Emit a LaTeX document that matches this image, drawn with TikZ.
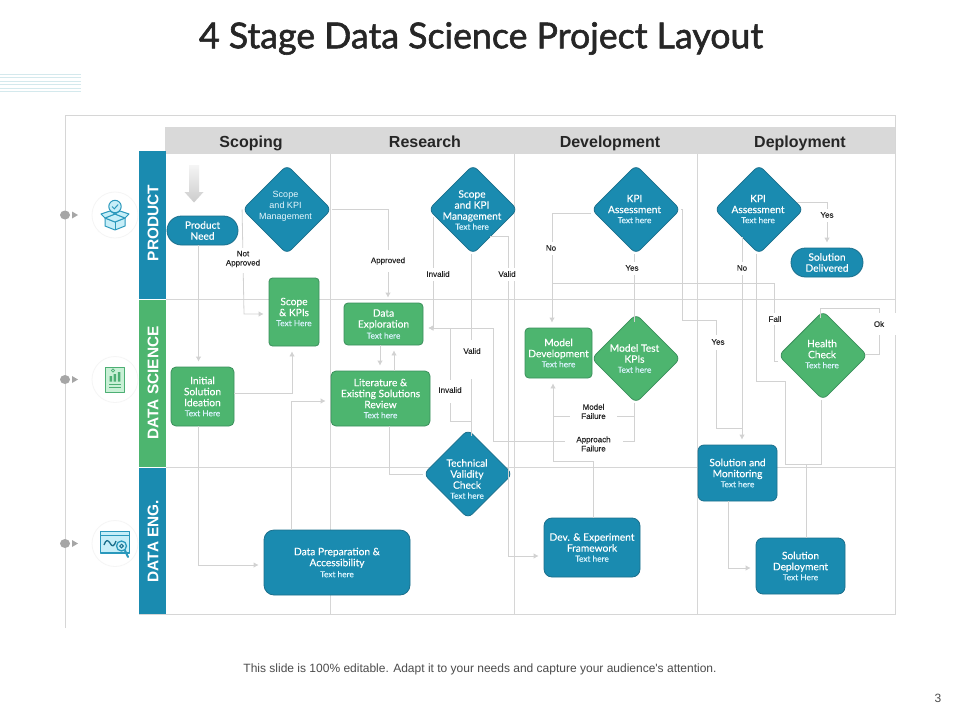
\documentclass[tikz,border=0pt]{standalone}
\usepackage{fontspec}
\setmainfont{Lato}
\newfontfamily\arialf{Liberation Sans}
\newfontfamily\arialb[FakeBold=0.2]{Liberation Sans}
\newfontfamily\flowf[FakeBold=0.2]{Lato}
\newfontfamily\titlef[FakeBold=1.6]{Lato}
\usetikzlibrary{shapes.geometric,arrows.meta}
\definecolor{tealc}{HTML}{1A8BB0}
\definecolor{tealb}{HTML}{1B6F8C}
\definecolor{greenc}{HTML}{4DB56F}
\definecolor{greenb}{HTML}{3B8F5C}
\definecolor{gridc}{HTML}{D6D6D6}
\definecolor{connc}{HTML}{D2D2D2}
\definecolor{headc}{HTML}{D9D9D9}
\definecolor{iconb}{HTML}{2A98BC}
\definecolor{iconf}{HTML}{C6EEF8}
\definecolor{icong}{HTML}{4DAF74}
\definecolor{icongf}{HTML}{C9F0D6}
\definecolor{stripec}{HTML}{D4E9ED}
\newcommand\subt{\fontsize{8.3}{11}\selectfont\color{white!85!cyan}}
\tikzset{
  x=1pt,y=-1pt,
  gridl/.style={draw=gridc,line width=0.8pt},
  conn/.style={draw=connc,line width=0.8pt},
  arr/.style={conn,-{Latex[length=5pt,width=5.5pt,color=connc]},shorten >=5pt},
  flow/.style={align=center,text=white,inner sep=0pt,font=\flowf\fontsize{10.2}{11}\selectfont},
  tealrect/.style={flow,fill=tealc,draw=tealb,line width=0.8pt},
  greenrect/.style={flow,fill=greenc,draw=greenb,line width=0.8pt},
  dia/.style={diamond,aspect=1,minimum width=89pt,minimum height=89pt,inner sep=0pt,rounded corners=6pt,line width=0.8pt},
  teald/.style={dia,fill=tealc,draw=tealb},
  greend/.style={dia,fill=greenc,draw=greenb},
  dtext/.style={align=center,text=white,inner sep=0pt,font=\flowf\fontsize{10.2}{11}\selectfont},
  lab/.style={inner sep=0pt,align=center,text=black!85,font=\arialb\fontsize{8}{9.2}\selectfont},
  labb/.style={fill=white,inner sep=0pt},
  lane/.style={rotate=90,text=white,font=\arialf\bfseries\fontsize{15.4}{16}\selectfont,inner sep=0pt},
  headt/.style={anchor=base,text=black!85,font=\arialf\bfseries\fontsize{16}{18}\selectfont,inner sep=0pt},
  band/.style={inner sep=0pt,minimum width=27pt},
  iconc/.style={circle,draw=black!4,line width=0.8pt,fill=white,minimum size=46pt,inner sep=0pt},
  dot/.style={ellipse,fill=black!35,minimum width=10pt,minimum height=9pt,inner sep=0pt},
  tri/.style={fill=black!35,draw=none},
  icl/.style={draw=iconb,line width=1pt,line join=round,fill=iconf},
  icg/.style={draw=icong,line width=1pt,line join=round,fill=icongf},
}
\begin{document}
\begin{tikzpicture}
\useasboundingbox (0,0) rectangle (960,720);
\fill[white] (0,0) rectangle (960,720);
% decorative stripes
\foreach \yy in {74,77.5,81,84.5,88,91.5}{\draw[draw=stripec,line width=1pt] (0,\yy) -- (81,\yy);}
\node[inner sep=0pt,font=\titlef\fontsize{35.7}{40}\selectfont,text=black!85] (title) at (481,38.5) {4 Stage Data Science Project Layout};
% frame
\draw[gridl] (65,628) -- (65,115) -- (895,115) -- (895,614) -- (139,614);
\node[fill=headc,minimum width=730pt,minimum height=27pt,inner sep=0pt] (hdr) at (530,140.5) {};
\draw[gridl] (166,299) -- (895,299);
\draw[gridl] (166,467) -- (895,467);
\foreach \xx in {330,514,697}{\draw[gridl] (\xx,154) -- (\xx,614);}
\node[headt] (h1) at (251,147.5) {Scoping};
\node[headt] (h2) at (425,147.5) {Research};
\node[headt] (h3) at (610,147.5) {Development};
\node[headt] (h4) at (800,147.5) {Deployment};
% lanes
\node[band,fill=tealc,minimum height=148pt] (l1) at (152.5,225) {};
\node[band,fill=greenc,minimum height=168pt] (l2) at (152.5,383) {};
\node[band,fill=tealc,minimum height=147pt] (l3) at (152.5,540.5) {};
\draw[white,line width=0.6pt] (139,299) -- (166,299) (139,467) -- (166,467);
\node[lane] (lt1) at (153,223) {PRODUCT};
\node[lane] (lt2) at (153,383) {DATA SCIENCE};
\node[lane] (lt3) at (153,541) {DATA ENG.};
% left markers
\foreach \n/\yy in {a/215,b/379.5,c/543.5}{
  \node[dot] (dot\n) at (65,\yy) {};
  \fill[tri] (72,\yy-3.5) -- (78,\yy) -- (72,\yy+3.5) -- cycle;
  \node[iconc] (ic\n) at (115,\yy) {};
}
% box icon
\draw[icl] (105,218) -- (115,222) -- (125,218) -- (125,226) -- (115,230) -- (105,226) -- cycle;
\draw[icl] (115,222) -- (115,230);
\draw[icl] (105,218) -- (115,214) -- (125,218) -- (115,222) -- cycle;
\draw[icl] (105,218) -- (101,214) -- (110,211) -- (115,214) -- cycle;
\draw[icl] (125,218) -- (129,214) -- (120,211) -- (115,214) -- cycle;
\draw[icl] (115,206.5) circle (6.2);
\draw[draw=iconb,line width=1pt] (112,206.5) -- (114.3,208.8) -- (118.2,204.5);
% doc icon
\draw[icg] (105.5,367) rectangle (124.5,392);
\draw[draw=icong,line width=1pt] (109,384) -- (121,384) (109,387.5) -- (121,387.5);
\fill[icong] (109.5,376) rectangle (112,381.5) (113.6,374) rectangle (116.1,381.5) (117.8,372) rectangle (120.3,381.5);
\draw[draw=icong,line width=0.8pt] (113,370.5) circle (1.6);
% chart icon
\draw[icl,line width=1.1pt] (100.5,531.5) rectangle (129.5,553);
\draw[draw=iconb,line width=1.1pt] (100.5,535.5) -- (129.5,535.5);
\draw[draw=tealb,line width=1.3pt] (104,545) .. controls (106,539) and (108,540) .. (110,543) .. controls (112,547) and (114,547) .. (116,541);
\draw[draw=iconb,line width=1.3pt,fill=iconf] (121.5,546) circle (5);
\draw[draw=tealb,line width=1pt] (121.5,546) circle (1.8);
\draw[draw=iconb,line width=2pt,line cap=round] (125,550.5) -- (128,557);
% big arrow
\shade[top color=black!4,bottom color=black!20] (189,165) -- (199,165) -- (199,192) -- (203.5,192) -- (194,202.5) -- (184.5,192) -- (189,192) -- cycle;

% shapes
\node[tealrect,minimum width=71pt,minimum height=29pt,rounded corners=14.5pt] (pn) at (202.5,230.5) {Product\\Need};
\node[teald] (d1) at (287,209.5) {};
\node[teald] (d2) at (473,209.5) {};
\node[teald] (d3) at (636,209.5) {};
\node[teald] (d4) at (759,209.5) {};
\node[tealrect,minimum width=72pt,minimum height=29pt,rounded corners=14.5pt] (sd) at (827,262.5) {Solution\\Delivered};
\node[greenrect,minimum width=50pt,minimum height=68pt,rounded corners=3.5pt] (sk) at (294,312) {Scope\\\& KPIs\\[-1pt]{\subt Text Here}};
\node[greenrect,minimum width=63pt,minimum height=59pt,rounded corners=5pt] (ini) at (202.5,396.5) {Initial\\Solution\\Ideation\\[-1pt]{\subt Text Here}};
\node[greenrect,minimum width=79pt,minimum height=42pt,rounded corners=4pt] (de) at (383.5,324) {Data\\Exploration\\{\subt Text here}};
\node[greenrect,minimum width=99pt,minimum height=55pt,rounded corners=5pt] (lit) at (380.5,398.5) {Literature \&\\Existing Solutions\\Review\\[-1pt]{\subt Text here}};
\node[teald] (tv) at (468,474) {};
\node[tealrect,minimum width=146pt,minimum height=65pt,rounded corners=10pt] (dp) at (337,562.5) {Data Preparation \&\\Accessibility\\{\subt Text here}};
\node[tealrect,minimum width=96pt,minimum height=59pt,rounded corners=8pt] (dx) at (592,547.5) {Dev. \& Experiment\\Framework\\[-1pt]{\subt Text here}};
\node[greenrect,minimum width=67pt,minimum height=50pt,rounded corners=4pt] (md) at (558.5,353) {Model\\Development\\[-1pt]{\subt Text here}};
\node[greend] (mt) at (636,358.5) {};
\node[greend] (hc) at (823,355.5) {};
\node[tealrect,minimum width=79pt,minimum height=56pt,rounded corners=6pt] (sm) at (737.5,473) {Solution and\\Monitoring\\[-1pt]{\subt Text here}};
\node[tealrect,minimum width=89pt,minimum height=56pt,rounded corners=7pt] (sp) at (800.5,566) {Solution\\Deployment\\[-1pt]{\subt Text Here}};
\node[dtext,font=\arialf\fontsize{9}{11}\selectfont,text=white!90!cyan] (d1t) at (285.5,206) {Scope\\and KPI\\Management};
\node[dtext] (d2t) at (472,210) {Scope\\and KPI\\Management\\[-1pt]{\subt Text here}};
\node[dtext] (d3t) at (634.5,209) {KPI\\Assessment\\[-1pt]{\subt Text here}};
\node[dtext] (d4t) at (758,209) {KPI\\Assessment\\[-1pt]{\subt Text here}};
\node[dtext] (tvt) at (467,479) {Technical\\Validity\\Check\\[-1pt]{\subt Text here}};
\node[dtext] (mtt) at (634.5,358.5) {Model Test\\KPIs\\[-1pt]{\subt Text here}};
\node[dtext] (hct) at (822,354) {Health\\Check\\[-1pt]{\subt Text here}};

% connectors
\draw[arr] (198.5,0 |- pn.south) -- (198.5,0 |- ini.north);
\draw[arr] (d1.west) -- (244,314) -- (sk.west |- 0,314);
\draw[arr] (d1.east) -- (388,209.5) -- (388,0 |- de.north);
\draw[arr] (ini.east |- 0,393) -- (292,393) -- (292,0 |- sk.south);
\draw[arr] (198.5,0 |- ini.south) -- (198.5,565) -- (dp.west |- 0,565);
\draw[arr] (291.5,0 |- dp.north) -- (291.5,401) -- (lit.west |- 0,401);
\draw[arr] (380,0 |- de.south) -- (380,0 |- lit.north);
\draw[arr] (394,0 |- lit.north) -- (394,0 |- de.south);
\draw[conn] (389,0 |- lit.south) -- (389,474) -- (tv.west);
\draw[conn] (471,0 |- d2.south) -- (471,436);
\draw[arr] (471,421) -- (450,421) -- (450,328) -- (de.east |- 0,328);
\draw[arr] (433,217) -- (433,328) -- (de.east |- 0,328);
\draw[arr] (490,236) -- (508,236) -- (508,556) -- (dx.west |- 0,556);
\draw[arr] (d3.west |- 0,213) -- (552,213) -- (552,0 |- md.north);
\draw[conn] (hc.west |- 0,361) -- (774,361) -- (774,283) -- (552,283);
\draw[conn] (634,0 |- d3.south) -- (634,322);
\draw[conn] (d3.east) -- (682,209.5) -- (682,320) -- (716,320) -- (716,428) -- (743,428);
\draw[arr] (742,237) -- (742,0 |- sm.north);
\draw[conn] (756,0 |- d4.south) -- (756,381) -- (785,381) -- (785,464) -- (806,464);
\draw[conn] (821,0 |- hc.south) -- (821,464) -- (806,464) -- (806,0 |- sp.north);
\draw[arr] (797,202) -- (827,202) -- (827,0 |- sd.north);
\draw[conn] (820,318) -- (820,308) -- (879,308) -- (879,354) -- (865,354);
\draw[arr] (728,0 |- sm.south) -- (728,568) -- (sp.west |- 0,568);
\draw[conn] (634,0 |- mt.south) -- (634,441) -- (493,441) -- (493,328) -- (450,328);
\draw[arr] (634,416) -- (553,416) -- (553,0 |- md.south);
\draw[conn] (593,0 |- dx.north) -- (593,461) -- (553,461) -- (553,416);

% label backings
\node[labb,minimum width=38pt,minimum height=25pt] (bn1) at (243,260) {};
\node[labb,minimum height=22pt,minimum width=40pt] (bn2) at (388,261) {};
\node[labb,minimum height=13pt,minimum width=27pt] (bn3) at (438,274) {};
\node[labb,minimum height=13pt,minimum width=20pt] (bn4) at (507,274) {};
\node[labb,minimum height=13pt,minimum width=12pt] (bn5) at (551,248) {};
\node[labb,minimum height=13pt,minimum width=15pt] (bn6) at (632,268) {};
\node[labb,minimum height=13pt,minimum width=12pt] (bn7) at (742,268) {};
\node[labb,minimum height=13pt,minimum width=15pt] (bn8) at (827,215) {};
\node[labb,minimum height=12pt,minimum width=15pt] (bn9) at (775,319) {};
\node[labb,minimum height=22pt,minimum width=29pt] (bn10) at (882,324) {};
\node[labb,minimum height=15pt,minimum width=15pt] (bn11) at (718,342) {};
\node[labb,minimum height=39pt,minimum width=24pt] (bn12) at (472,359.5) {};
\node[labb,minimum height=23pt,minimum width=27pt] (bn13) at (450,391.5) {};
\node[labb,minimum height=20pt,minimum width=47pt] (bn14) at (593.5,411.5) {};
\node[labb,minimum height=20pt,minimum width=58pt] (bn15) at (594,444) {};
% labels
\node[lab] (ln1) at (243,259) {Not\\Approved};
\node[lab] (ln2) at (388,261) {Approved};
\node[lab] (ln3) at (438,274) {Invalid};
\node[lab] (ln4) at (507,274) {Valid};
\node[lab] (ln5) at (551,248) {No};
\node[lab] (ln6) at (632,268) {Yes};
\node[lab] (ln7) at (742,268) {No};
\node[lab] (ln8) at (827,215) {Yes};
\node[lab] (ln9) at (775,319) {Fall};
\node[lab] (ln10) at (879,324) {Ok};
\node[lab] (ln11) at (718,342) {Yes};
\node[lab] (ln12) at (472,351) {Valid};
\node[lab] (ln13) at (450,390) {Invalid};
\node[lab] (ln14) at (593.5,411.5) {Model\\Failure};
\node[lab] (ln15) at (593.5,444) {Approach\\Failure};

\node[inner sep=0pt,text=black!70,font=\arialf\fontsize{12}{14}\selectfont] (foot) at (480,669.5) {This slide is 100\% editable. Adapt it to your needs and capture your audience's attention.};
\node[inner sep=0pt,text=black!70,font=\arialf\fontsize{12}{14}\selectfont] (pg) at (938,698) {3};
\end{tikzpicture}
\end{document}
